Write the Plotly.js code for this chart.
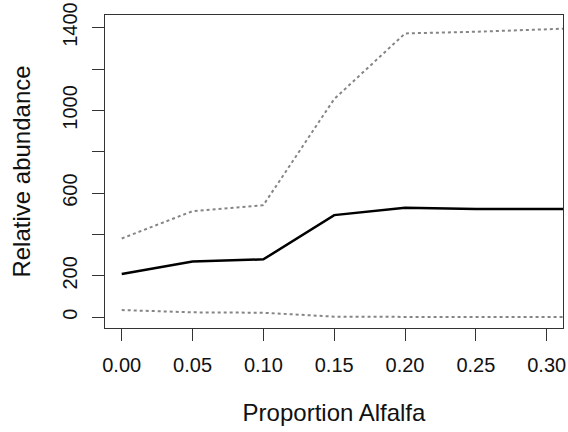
<!DOCTYPE html>
<html>
<head>
<meta charset="utf-8">
<script src="https://cdn.plot.ly/plotly-3.0.1.min.js"></script>
<style>html,body{margin:0;padding:0;background:#fff;}#chart{width:568px;height:432px;}</style>
</head>
<body>
<div id="chart"></div>
<script>
// Data
var proportion = [0, 0.05, 0.10, 0.15, 0.20, 0.25, 0.30, 0.35];
var meanAbundance = [209, 270, 280, 494, 530, 523, 523, 523];
var upperBound = [381, 513, 542, 1055, 1372, 1380, 1392, 1404];
var lowerBound = [35, 24, 22, 3, 2, 2, 2, 2];

var xTickVals = [0, 0.05, 0.10, 0.15, 0.20, 0.25, 0.30];
var xTickText = ["0.00", "0.05", "0.10", "0.15", "0.20", "0.25", "0.30"];
var yTickVals = [0, 200, 400, 600, 800, 1000, 1200, 1400];
var yTickText = ["0", "200", "", "600", "", "1000", "", "1400"];

var font = "Liberation Sans, Arial, sans-serif";

var traces = [
  {x: proportion, y: upperBound, mode: "lines", line: {color: "#858585", width: 2, dash: "3px,3px"}, hoverinfo: "skip"},
  {x: proportion, y: lowerBound, mode: "lines", line: {color: "#858585", width: 2, dash: "3px,3px"}, hoverinfo: "skip"},
  {x: proportion, y: meanAbundance, mode: "lines", line: {color: "#000000", width: 2.5}, hoverinfo: "skip"}
];

var layout = {
  width: 568, height: 432,
  margin: {l: 105, r: 5, t: 15, b: 104},
  paper_bgcolor: "#fff", plot_bgcolor: "#fff",
  showlegend: false,
  font: {family: font, color: "#000", size: 20},
  xaxis: {
    range: [-0.0118, 0.3115],
    tickvals: xTickVals, ticktext: xTickText,
    ticks: "outside", ticklen: 12, tickwidth: 1, tickcolor: "#333",
    showline: true, mirror: true, linecolor: "#333", linewidth: 1,
    showgrid: false, zeroline: false,
    tickfont: {family: font, size: 20, color: "#111"},
    ticklabelstandoff: 7,
    title: {text: "Proportion Alfalfa", font: {family: font, size: 24, color: "#111"}, standoff: 29}
  },
  yaxis: {
    range: [-51.7, 1461],
    tickvals: yTickVals, ticktext: yTickText,
    tickangle: -90,
    ticks: "outside", ticklen: 12, tickwidth: 1, tickcolor: "#333",
    showline: true, mirror: true, linecolor: "#333", linewidth: 1,
    showgrid: false, zeroline: false,
    tickfont: {family: font, size: 20, color: "#111"},
    ticklabelstandoff: 7,
    title: {text: "Relative abundance", font: {family: font, size: 24, color: "#111"}, standoff: 21}
  }
};

Plotly.newPlot("chart", traces, layout, {staticPlot: true, displayModeBar: false});
</script>
</body>
</html>
